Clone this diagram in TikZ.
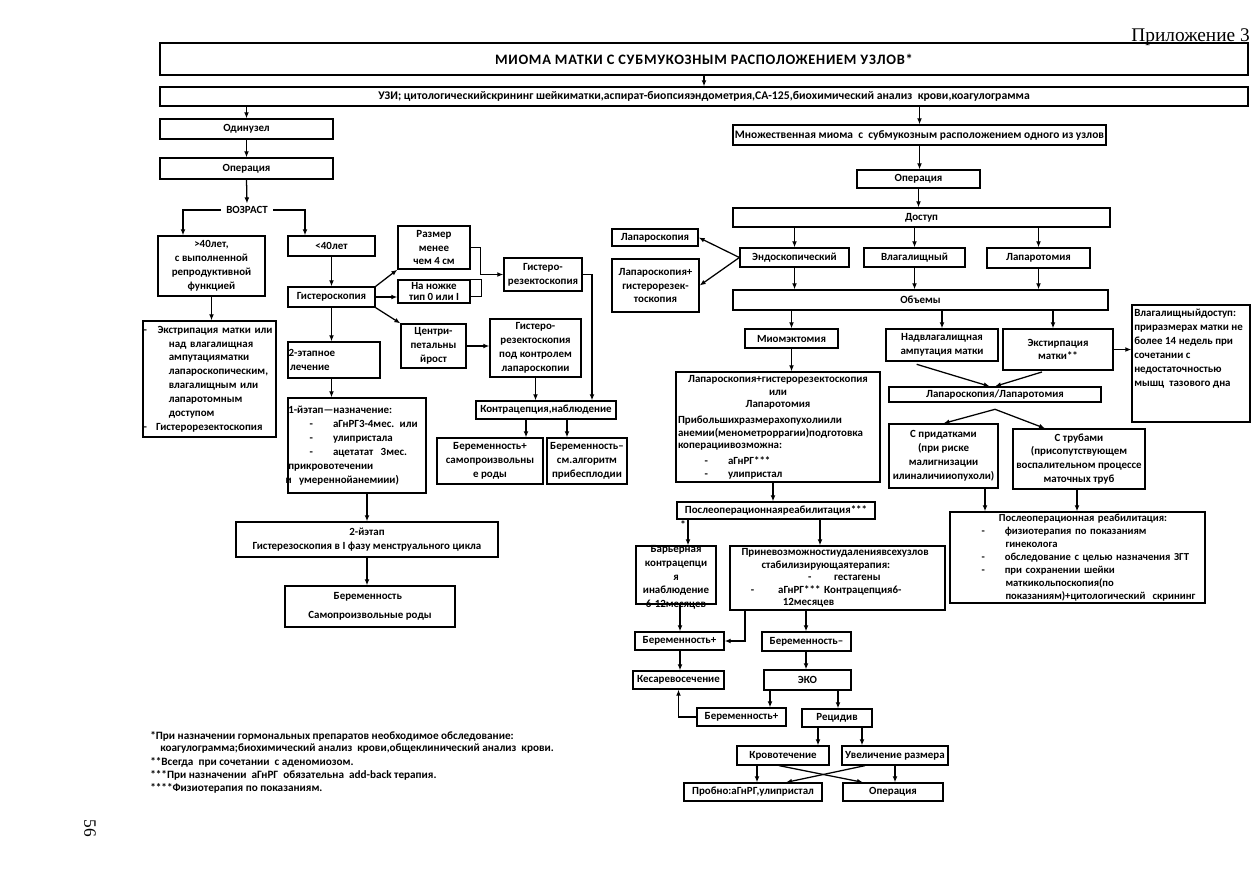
\documentclass[tikz,border=0pt]{standalone}
\usepackage{fontspec}
\setmainfont{Carlito}
\newfontfamily\pagefont{Liberation Serif}
\usetikzlibrary{arrows.meta,positioning,calc}

\newcommand\bxfont{\fontsize{8.2}{10.4}\selectfont\bfseries}
\tikzset{
  >={Latex[length=4.5pt,width=3.6pt]},
  bx/.style={draw,line width=.95pt,inner sep=0pt,align=center,font=\bxfont},
  wh/.style 2 args={minimum width=#1*.75pt,minimum height=#2*.75pt},
  txt/.style={inner sep=0pt,align=left,font=\bxfont},
  arr/.style={->,line width=.95pt},
  ln/.style={line width=.95pt},
  note/.style={inner sep=0pt,anchor=west,font=\fontsize{8.4}{9}\selectfont\bfseries}
}

\begin{document}
\begin{tikzpicture}[x=.75pt,y=-.75pt]
\useasboundingbox (0,0) rectangle (1256,893);

% шапка
\node[anchor=east,inner sep=0pt,font=\pagefont\fontsize{14.5}{14}\selectfont] (app) at (1250,37) {Приложение 3};
\node[bx,wh={1088}{32},font=\fontsize{10.8}{12}\selectfont\bfseries\addfontfeatures{LetterSpace=5}] (title) at (704,59) {МИОМА МАТКИ С СУБМУКОЗНЫМ РАСПОЛОЖЕНИЕМ УЗЛОВ*};
\node[bx,wh={1088}{19},font=\fontsize{8.8}{10}\selectfont\bfseries] (uzi) at (704,96.5) {УЗИ; цитологическийскрининг шейкиматки,аспират-биопсияэндометрия,СА-125,биохимический анализ~ крови,коагулограмма};
\draw[arr] (title.south) -- (uzi.north);

% один узел
\node[bx,wh={173}{20}] (odin) at (246.5,129) {Одинузел};
\node[bx,wh={173}{21}] (oper1) at (246.5,168.5) {Операция};
\node[txt] (age) at (247,210) {ВОЗРАСТ};
\node[bx,wh={107}{60}] (over40) at (211.5,266) {>40лет,\\с выполненной\\репродуктивной\\функцией};
\node[bx,wh={133}{116},text width=99pt,align=left] (extir) at (209.5,379) {-\hspace*{8pt}Экстрипация матки или\\
  \hspace*{19pt}над влагалищная\\
  \hspace*{19pt}ампутацияматки\\
  \hspace*{19pt}лапароскопическим,\\
  \hspace*{19pt}влагалищным или\\
  \hspace*{19pt}лапаротомным\\
  \hspace*{19pt}доступом\\
  -\hspace*{7pt}Гистерорезектоскопия};
\node[bx,wh={87}{20}] (under40) at (331.5,246) {<40лет};
\node[bx,wh={87}{20}] (hyst) at (331.5,297) {Гистероскопия};
\node[bx,wh={92}{36},text width=68pt,align=left] (stage2) at (334,360) {2-этапное\\\hspace*{1pt}лечение};
\node[bx,wh={138}{95},text width=103pt,align=left] (stage1) at (357,445.5) {1-йэтап---назначение:\\
  \hspace*{16pt}-\hspace*{15pt}аГнРГ3-4мес. или\\
  \hspace*{16pt}-\hspace*{15pt}улипристала\\
  \hspace*{16pt}-\hspace*{15pt}ацетатат~ 3мес.\\
  прикровотечении\\
  \hspace*{-2pt}и~ умереннойанемиии)};
\node[bx,wh={262}{35}] (stage2b) at (367,539.5) {2-йэтап\\Гистерезоскопия в I фазу менструального цикла};
\node[bx,wh={170}{41},align=left] (preg1) at (370,606.5) {\hspace*{19pt}Беременность\\[4pt]Самопроизвольные роды};

\draw[arr] (uzi.south -| odin.north) -- (odin.north);
\draw[arr] (odin.south) -- (oper1.north);
\draw[arr] (oper1.south) -- ([yshift=2pt]age.north);
\draw[arr] ([xshift=-4pt]age.west) -| (183,0 |- over40.north);
\draw[arr] ([xshift=4pt]age.east) -| (305,0 |- under40.north);
\draw[arr] (over40.south) -- (extir.north -| over40.south);
\draw[arr] (under40.south) -- (hyst.north);
\draw[arr] (hyst.south) -- (stage2.north -| hyst.south);
\draw[arr] (stage2.south -| hyst.south) -- (stage1.north -| hyst.south);
\draw[arr] (stage1.south -| stage2b.north) -- (stage2b.north);
\draw[arr] (stage2b.south) -- (preg1.north -| stage2b.south);

% гистероскопия
\node[bx,wh={72}{43}] (size4) at (434,247.5) {Размер\\менее\\чем 4 см};
\node[bx,wh={72}{23}] (stalk) at (434,291.5) {На ножке\\[-2.5pt]тип 0 или I};
\node[bx,wh={65}{44}] (centri) at (433.5,346) {Центри-\\петальны\\йрост};
\node[bx,wh={78}{33}] (hres1) at (543,274.5) {Гистеро-\\резектоскопия};
\node[bx,wh={91}{58}] (hres2) at (535.5,348) {Гистеро-\\резектоскопия\\под контролем\\лапароскопии};
\node[bx,wh={140}{18}] (contr) at (546,410) {Контрацепция,наблюдение};
\node[bx,wh={106}{46}] (pregA) at (490,461) {Беременность+\\самопроизвольны\\е роды};
\node[bx,wh={80}{46}] (pregB) at (587,461) {Беременность–\\см.алгоритм\\прибесплодии};

\draw[arr] (hyst.north east) -- (size4.south west);
\draw[arr] (hyst.east) -- (stalk.west |- hyst.east);
\draw[arr] (hyst.south east) -- (centri.north west);
\draw[ln] (stalk.north east) -| ++(11,17) -- ++(-11,0);
\draw[arr] (size4.east) -- ++(10,0) |- (hres1.west);
\draw[arr] (hres1.east) -| (592,0 |- contr.north);
\draw[arr] (centri.east) -- (hres2.west |- centri.east);
\draw[arr] (hres2.south) -- (contr.north -| hres2.south);
\draw[arr] (526,0 |- contr.south) -- (526,0 |- pregA.north);
\draw[arr] (567,0 |- contr.south) -- (567,0 |- pregB.north);

% множественная миома
\node[bx,wh={373}{20},font=\fontsize{8.6}{10}\selectfont\bfseries] (multi) at (919.5,135) {Множественная миома~ с~ субмукозным расположением одного из узлов};
\node[bx,wh={123}{18}] (oper2) at (918.5,179) {Операция};
\node[bx,wh={377}{19}] (access) at (921.5,217.5) {Доступ};
\node[bx,wh={109}{19}] (endo) at (794.5,257.5) {Эндоскопический};
\node[bx,wh={101}{19}] (vag) at (914.5,257.5) {Влагалищный};
\node[bx,wh={103}{20}] (lapt) at (1038.5,258) {Лапаротомия};
\node[bx,wh={86}{17}] (lapS) at (655,237.5) {Лапароскопия};
\node[bx,wh={87}{53}] (lapH) at (655.5,285.5) {Лапароскопия+\\гистерорезек-\\тоскопия};
\node[bx,wh={375}{20}] (vol) at (920.5,300) {Объемы};

\draw[arr] (uzi.south -| multi.north) -- (multi.north);
\draw[arr] (multi.south) -- (oper2.north -| multi.south);
\draw[arr] (oper2.south) -- (access.north -| oper2.south);
\draw[arr] (access.south -| endo.north) -- (endo.north);
\draw[arr] (access.south -| vag.north) -- (vag.north);
\draw[arr] (access.south -| lapt.north) -- (lapt.north);
\draw[arr] (endo.south) -- (vol.north -| endo.south);
\draw[arr] (vag.south) -- (vol.north -| vag.south);
\draw[arr] (lapt.south) -- (vol.north -| lapt.south);
\draw[arr] (endo.west) -- (lapS.east);
\draw[arr] (endo.west) -- (lapH.east);

% объемы
\node[bx,wh={93}{19}] (myo) at (791.5,338.5) {Миомэктомия};
\node[bx,wh={204}{110},text width=150pt,align=left,font=\fontsize{8.2}{9.6}\selectfont\bfseries] (big) at (778,427) {\makebox[150pt]{Лапароскопия+гистерорезектоскопия}\\
  \makebox[150pt]{или}\\
  \makebox[150pt]{Лапаротомия}\\[2pt]
  Прибольшихразмерахопухолиили\\
  анемии(менометроррагии)подготовка\\
  коперациивозможна:\\[2pt]
  \hspace*{20pt}-\hspace*{15pt}аГнРГ***\\
  \hspace*{20pt}-\hspace*{15pt}улипристал};
\node[bx,wh={112}{32}] (supra) at (942,345) {Надвлагалищная\\ампутация матки};
\node[bx,wh={110}{41}] (hyster) at (1058,349.5) {Экстирпация\\матки**};
\node[bx,wh={118}{117}] (vagacc) at (1191,363.5) {};
\node[txt,anchor=north west] (vagaccT) at (1134,309) {Влагалищныйдоступ:\\приразмерах матки не\\более 14 недель при\\сочетании с\\недостаточностью\\мышц~ тазового дна};
\node[bx,wh={212}{15}] (lapl) at (995,394.5) {Лапароскопия/Лапаротомия};
\node[bx,wh={109}{64}] (adnex) at (943.5,456) {С придатками\\(при риске\\малигнизации\\илиналичииопухоли)};
\node[bx,wh={132}{60}] (tubes) at (1079,459) {С трубами\\(присопутствующем\\воспалительном процессе\\маточных труб};
\node[bx,wh={255}{91},text width=190pt,align=left,font=\fontsize{8}{9.7}\selectfont\bfseries] (rehabR) at (1077.5,557.5) {\hspace*{36pt}Послеоперационная реабилитация:\\
  \hspace*{23pt}-\hspace*{15pt}физиотерапия по показаниям\\
  \hspace*{41pt}гинеколога\\
  \hspace*{23pt}-\hspace*{15pt}обследование с целью назначения ЗГТ\\
  \hspace*{23pt}-\hspace*{15pt}при сохранении шейки\\
  \hspace*{41pt}маткикольпоскопия(по\\
  \hspace*{41pt}показаниям)+цитологический~ скрининг};

\draw[arr] (vol.south -| myo.north) -- (myo.north);
\draw[arr] (myo.south) -- (big.north -| myo.south);
\draw[arr] (vol.south -| supra.north) -- (supra.north);
\draw[arr] (vol.south -| 1053,0) -- (hyster.north -| 1053,0);
\draw[arr] (hyster.east) -- (vagacc.west |- hyster.east);
\draw[arr] ([xshift=-19pt,yshift=-2pt]supra.south) -- ([xshift=-4pt]lapl.north);
\draw[arr] ([xshift=-12pt,yshift=-1pt]hyster.south) -- (lapl.north);
\draw[arr] ([yshift=-5pt]lapl.south) -- (adnex.north);
\draw[arr] ([yshift=-5pt]lapl.south) -- (1045,0 |- tubes.north);
\draw[arr] (adnex.south -| 985,0) -- (rehabR.north -| 985,0);
\draw[arr] (tubes.south -| 1077,0) -- (rehabR.north -| 1077,0);

% реабилитация и исходы
\node[bx,wh={198}{17}] (rehab) at (776,510.5) {Послеоперационнаяреабилитация***};
\node[txt] (star) at (683,525) {*};
\node[bx,wh={80}{58}] (barrier) at (676,575) {};
\node[txt,align=center,anchor=north] (barrierT) at (676,545) {Барьерная\\контрацепци\\я\\инаблюдение\\6-12месяцев};
\node[bx,wh={215}{64},text width=158pt,align=left,font=\fontsize{8.2}{9.4}\selectfont\bfseries] (imposs) at (837.5,578) {\hspace*{7pt}Приневозможностиудалениявсехузлов\\
  \hspace*{22pt}стабилизирующаятерапия:\\
  \hspace*{57pt}-\hspace*{17pt}гестагены\\
  \hspace*{14pt}-\hspace*{18pt}аГнРГ*** Контрацепция6-\\
  \hspace*{38pt}12месяцев};
\node[bx,wh={89}{18}] (pregP) at (679.5,641) {Беременность+};
\node[bx,wh={89}{19}] (pregM) at (806.5,641.5) {Беременность–};
\node[bx,wh={91}{18}] (caes) at (678.5,680) {Кесаревосечение};
\node[bx,wh={87}{20}] (eco) at (807.5,680) {ЭКО};
\node[bx,wh={89}{18}] (pregE) at (741.5,717) {Беременность+};
\node[bx,wh={70}{18}] (relapse) at (837,718) {Рецидив};
\node[bx,wh={92}{19}] (bleed) at (783,755.5) {Кровотечение};
\node[bx,wh={106}{19}] (grow) at (895,755.5) {Увеличение размера};
\node[bx,wh={138}{18}] (trial) at (753,792) {Пробно:аГнРГ,улипристал};
\node[bx,wh={100}{18}] (oper3) at (893,792) {Операция};

\draw[arr] (big.south -| 773,0) -- (rehab.north -| 773,0);
\draw[arr] (rehab.south -| 688,0) -- (barrier.north -| 688,0);
\draw[arr] (rehab.south -| 820,0) -- (imposs.north -| 820,0);
\draw[arr] (barrier.south -| 680,0) -- (pregP.north -| 680,0);
\draw[arr] (imposs.south -| 745,0) |- (pregP.east);
\draw[arr] (imposs.south -| 806,0) -- (pregM.north -| 806,0);
\draw[arr] (pregP.south -| 680,0) -- (caes.north -| 680,0);
\draw[arr] (pregM.south -| 806,0) -- (eco.north -| 806,0);
\draw[arr] (eco.south -| 770,0) -- (pregE.north -| 770,0);
\draw[arr] (eco.south -| 838,0) -- (relapse.north -| 838,0);
\draw[arr] (pregE.west) -| (caes.south);
\draw[arr] (relapse.south -| 818,0) -- (bleed.north -| 818,0);
\draw[arr] (relapse.south -| 862,0) -- (grow.north -| 862,0);
\draw[arr] (bleed.south -| 757,0) -- (trial.north -| 757,0);
\draw[arr] (grow.south -| 895,0) -- (oper3.north -| 895,0);
\draw[arr] (bleed.south -| 779,0) -- (oper3.north -| 863,0);
\draw[arr] (grow.south -| 865,0) -- (trial.north -| 786,0);

% сноски
\node[note] (fn1) at (150,736) {*При назначении гормональных препаратов необходимое обследование:};
\node[note] (fn2) at (160,749) {коагулограмма;биохимический анализ~ крови,общеклинический анализ~ крови.};
\node[note] (fn3) at (150,762) {**Всегда~ при сочетании~ с аденомиозом.};
\node[note] (fn4) at (150,775) {***При назначении~ аГнРГ~ обязательна~ add-back терапия.};
\node[note] (fn5) at (150,788) {****Физиотерапия по показаниям.};
\node[rotate=-90,inner sep=0pt,font=\pagefont\fontsize{13}{13}\selectfont] (pnum) at (90,828) {56};
\end{tikzpicture}
\end{document}
